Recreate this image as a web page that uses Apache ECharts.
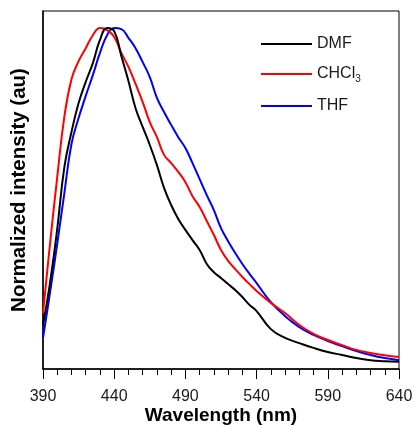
<!DOCTYPE html>
<html>
<head>
<meta charset="utf-8">
<script src="https://cdn.jsdelivr.net/npm/echarts@6/dist/echarts.min.js"></script>
<style>
html,body{margin:0;padding:0;background:#fff;}
#c{width:414px;height:426px;}
</style>
</head>
<body>
<div id="c"></div>
<script>
const wavelengths = [390,395,400,405,410,415,420,425,430,435,440,445,450,455,460,465,470,475,480,485,490,495,500,505,510,515,520,525,530,535,540,550,560,570,580,590,600,610,620,630,640];
const dmf = [0.129,0.255,0.411,0.592,0.695,0.780,0.842,0.897,0.965,1.000,0.991,0.918,0.845,0.765,0.710,0.657,0.598,0.531,0.481,0.440,0.408,0.378,0.349,0.308,0.284,0.267,0.249,0.232,0.211,0.188,0.170,0.117,0.091,0.076,0.062,0.050,0.041,0.032,0.026,0.023,0.021];
const chcl3 = [0.164,0.370,0.563,0.740,0.850,0.903,0.941,0.979,1.000,0.994,0.974,0.927,0.886,0.836,0.783,0.724,0.680,0.628,0.604,0.578,0.548,0.507,0.475,0.434,0.393,0.349,0.317,0.293,0.270,0.249,0.229,0.194,0.164,0.129,0.103,0.085,0.070,0.056,0.047,0.040,0.035];
const thf = [0.091,0.226,0.367,0.516,0.660,0.736,0.801,0.862,0.927,0.979,1.000,0.997,0.971,0.941,0.900,0.856,0.795,0.754,0.716,0.680,0.648,0.604,0.557,0.510,0.466,0.413,0.375,0.340,0.308,0.279,0.252,0.196,0.155,0.123,0.100,0.082,0.067,0.053,0.041,0.032,0.026];
const seriesNames = ['DMF','CHCl3','THF'];
const seriesColors = ['#000000','#ff0000','#0000ff'];
const xTicks = {min:390, max:640, interval:50};

const chart = echarts.init(document.getElementById('c'), null, {renderer:'canvas'});
const allData = [dmf, chcl3, thf];
const series = allData.map((arr, i) => ({
  name: seriesNames[i],
  type: 'line',
  data: arr.map((v, j) => [wavelengths[j], v]),
  showSymbol: false,
  symbol: 'none',
  smooth: 0.45,
  lineStyle: {color: seriesColors[i], width: 2},
  itemStyle: {color: seriesColors[i]},
  z: 3 - i
}));
chart.setOption({
  animation: false,
  backgroundColor: '#fff',
  grid: {left: 43, right: 15, top: 11, bottom: 57, show: true, borderColor: '#000', borderWidth: 1, containLabel: false, outerBoundsMode: 'none'},
  legend: {
    orient: 'vertical',
    left: 256,
    top: 31,
    itemWidth: 51,
    itemHeight: 2,
    itemGap: 14,
    icon: 'rect',
    data: seriesNames,
    formatter: n => n === 'CHCl3' ? 'CHCl{sub|3}' : n,
    textStyle: {
      fontFamily: 'Liberation Sans, Arial, sans-serif',
      fontSize: 16,
      color: '#1a1a1a',
      rich: {sub: {fontSize: 10, fontFamily: 'Liberation Sans, Arial, sans-serif', color: '#1a1a1a', padding: [10,0,0,0], verticalAlign: 'bottom'}}
    }
  },
  xAxis: {
    type: 'value',
    min: xTicks.min, max: xTicks.max, interval: xTicks.interval,
    name: 'Wavelength (nm)',
    nameLocation: 'middle',
    nameGap: 47,
    nameMoveOverlap: false,
    nameTextStyle: {fontFamily: 'Liberation Sans, Arial, sans-serif', fontSize: 19, fontWeight: 'bold', color: '#000', verticalAlign: 'middle'},
    axisLine: {show: true, onZero: false, lineStyle: {color: '#000', width: 1.5}},
    axisTick: {show: true, length: 10, inside: false, lineStyle: {color: '#000', width: 1}},
    minorTick: {show: true, splitNumber: 5, length: 6, lineStyle: {color: '#000', width: 1}},
    axisLabel: {margin: 20, fontFamily: 'Liberation Sans, Arial, sans-serif', fontSize: 16, color: '#1a1a1a'},
    splitLine: {show: false}
  },
  yAxis: {
    type: 'value',
    min: 0, max: 1.05,
    name: 'Normalized intensity (au)',
    nameLocation: 'middle',
    nameGap: 13,
    nameMoveOverlap: false,
    nameTextStyle: {fontFamily: 'Liberation Sans, Arial, sans-serif', fontSize: 20.5, fontWeight: 'bold', color: '#000'},
    axisLine: {show: true, onZero: false, lineStyle: {color: '#000', width: 1.5}},
    axisTick: {show: false},
    axisLabel: {show: false},
    splitLine: {show: false}
  },
  series: series
});
</script>
</body>
</html>
